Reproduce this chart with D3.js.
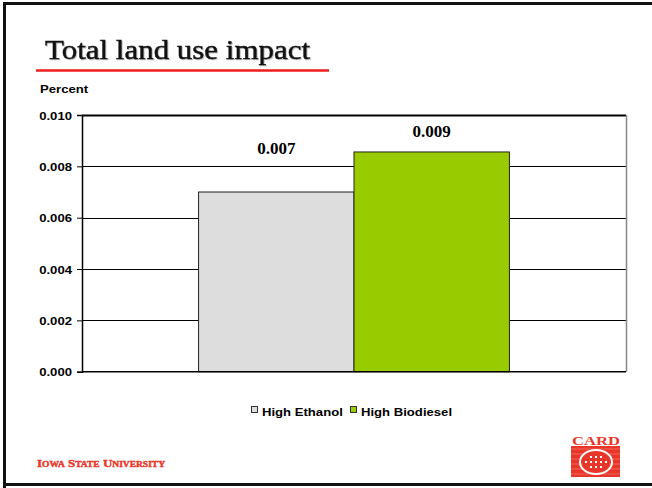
<!DOCTYPE html>
<html>
<head>
<meta charset="utf-8">
<script src="https://cdn.jsdelivr.net/npm/d3@7"></script>
<style>
html,body{margin:0;padding:0;background:#fff;}
svg{display:block;}
</style>
</head>
<body>
<script>
const categories = ["Total land use"];
const seriesNames = ["High Ethanol", "High Biodiesel"];
const seriesValues = [0.0070, 0.00856];
const valueLabels = ["0.007", "0.009"];
const seriesColors = ["#DDDDDD", "#99CC00"];
const yTicks = [0, 0.002, 0.004, 0.006, 0.008, 0.010];

(function () {
const W = 652, H = 488;
const SX = 1.14; // horizontal stretch of the sans labels
const sans = "'Liberation Sans', Arial, sans-serif";
const svg = d3.select("body").append("svg").attr("width", W).attr("height", H);

// slide frame
svg.append("rect").attr("x", 0).attr("y", 0).attr("width", W).attr("height", H).attr("fill", "#fff");
svg.append("path").attr("d", `M4.5,${H+5} L4.5,3.5 L${W+5},3.5`).attr("fill","none").attr("stroke","#111").attr("stroke-width",3);
svg.append("line").attr("x1",3).attr("x2",W).attr("y1",484.5).attr("y2",484.5).attr("stroke","#111").attr("stroke-width",3);

// title
svg.append("text").attr("x", 45).attr("y", 59)
  .attr("font-family", "'Liberation Serif', 'DejaVu Serif', serif")
  .attr("font-size", 28).attr("fill", "#111").attr("stroke", "#111").attr("stroke-width", 0.45)
  .attr("textLength", 265).attr("lengthAdjust","spacingAndGlyphs")
  .style("filter", "drop-shadow(1px 1px 0.5px rgba(0,0,0,0.25))")
  .text("Total land use impact");
svg.append("line").attr("x1", 36).attr("x2", 329).attr("y1", 70.5).attr("y2", 70.5)
  .attr("stroke", "#EE1C1C").attr("stroke-width", 2.5);

svg.append("text").attr("transform", `translate(40,92.5) scale(${SX},1)`)
  .attr("font-family", sans).attr("font-weight","bold")
  .attr("font-size", 11.5).attr("fill","#000").text("Percent");

const pLeft = 82, pRight = 626, pTop = 115, pBottom = 371.7;
const y = d3.scaleLinear().domain([0, 0.010]).range([pBottom, pTop]);
const x0 = d3.scaleBand().domain(categories).range([pLeft, pRight]).paddingInner(0).paddingOuter(0.375);
const x1 = d3.scaleBand().domain(seriesNames).range([0, x0.bandwidth()]).padding(0);

// gridlines
svg.append("g").selectAll("line").data(yTicks.filter(t => t > 0)).join("line")
  .attr("x1", pLeft).attr("x2", pRight)
  .attr("y1", d => Math.round(y(d)) + 0.5).attr("y2", d => Math.round(y(d)) + 0.5)
  .attr("stroke", "#000").attr("stroke-width", d => d === 0.010 ? 2 : 1);
// right frame
svg.append("line").attr("x1", pRight+0.5).attr("x2", pRight+0.5).attr("y1", pTop).attr("y2", pBottom)
  .attr("stroke", "#888").attr("stroke-width", 1.5);

// bars
const data = seriesNames.map((s, i) => ({cat: categories[0], s, v: seriesValues[i], c: seriesColors[i], lbl: valueLabels[i]}));
svg.append("g").selectAll("rect").data(data).join("rect")
  .attr("x", d => x0(d.cat) + x1(d.s))
  .attr("y", d => y(d.v))
  .attr("width", x1.bandwidth())
  .attr("height", d => pBottom - y(d.v))
  .attr("fill", d => d.c).attr("stroke", "#222").attr("stroke-width", 1);

// value labels
const labelGap = [38, 15];
svg.append("g").selectAll("text").data(data).join("text")
  .attr("x", d => x0(d.cat) + x1(d.s) + x1.bandwidth()/2)
  .attr("y", (d, i) => y(d.v) - labelGap[i])
  .attr("text-anchor", "middle")
  .attr("font-family", "'Liberation Serif', 'Times New Roman', serif").attr("font-weight","bold")
  .attr("font-size", 17).attr("fill","#000")
  .text(d => d.lbl);

// y axis
const yAxis = d3.axisLeft(y).tickValues(yTicks).tickFormat(d3.format(".3f")).tickSize(5).tickPadding(0);
const ax = svg.append("g").attr("transform", `translate(${pLeft},0)`).call(yAxis);
ax.select(".domain").attr("stroke", "#000").attr("stroke-width", 1.5);
ax.selectAll(".tick line").attr("stroke", "#000");
ax.selectAll(".tick text")
  .attr("x", null).attr("dy", null)
  .attr("transform", `translate(-10,4) scale(${SX},1)`)
  .attr("font-family", sans)
  .attr("font-weight","bold").attr("font-size", 11.5).attr("fill","#000");
// x axis baseline
svg.append("line").attr("x1", pLeft).attr("x2", pRight).attr("y1", pBottom).attr("y2", pBottom)
  .attr("stroke","#000").attr("stroke-width",1.5);

// legend
const legX = [251, 350];
const leg = svg.append("g").selectAll("g").data(data).join("g")
  .attr("transform", (d, i) => `translate(${legX[i]},0)`);
leg.append("rect").attr("x", 0.5).attr("y", 406.5).attr("width", 6).attr("height", 6)
  .attr("fill", d => d.c).attr("stroke", "#333").attr("stroke-width", 1);
leg.append("text").attr("transform", `translate(11,416) scale(${SX},1)`)
  .attr("font-family", sans).attr("font-weight","bold")
  .attr("font-size", 11.5).attr("fill","#000").text(d => d.s);

// Iowa State University logo text
svg.append("text").attr("x", 37).attr("y", 467)
  .attr("font-family", "'Liberation Serif', serif").attr("font-weight","bold")
  .attr("font-size", 11).attr("fill", "#E8372A").attr("stroke", "#E8372A").attr("stroke-width", 0.4)
  .attr("textLength", 128).attr("lengthAdjust","spacingAndGlyphs")
  .style("font-variant","small-caps").text("Iowa State University");

// CARD logo
const red = "#E8372A";
const logo = svg.append("g");
logo.append("text").attr("x", 596).attr("y", 445).attr("text-anchor","middle")
  .attr("font-family","'Liberation Serif', serif").attr("font-weight","bold")
  .attr("font-size", 13).attr("fill", red).attr("textLength", 48).attr("lengthAdjust","spacingAndGlyphs").text("CARD");
logo.append("rect").attr("x", 571).attr("y", 446).attr("width", 49).attr("height", 31).attr("fill", red);
for (let k = 0; k < 6; k++) {
  logo.append("line").attr("x1", 571).attr("x2", 620).attr("y1", 449 + k*5).attr("y2", 449 + k*5)
    .attr("stroke", "#F27A70").attr("stroke-width", 0.7);
}
logo.append("ellipse").attr("cx", 596).attr("cy", 462).attr("rx", 16).attr("ry", 12)
  .attr("fill", red).attr("stroke", "#fff").attr("stroke-width", 2);
for (let r = -1; r <= 1; r++) for (let c = -2; c <= 2; c++) {
  if (Math.abs(r) === 1 && Math.abs(c) === 2) continue;
  logo.append("rect").attr("x", 596 + c*5 - 1).attr("y", 462 + r*5 - 1).attr("width", 2).attr("height", 2).attr("fill", "#fff");
}
})();
</script>
</body>
</html>
